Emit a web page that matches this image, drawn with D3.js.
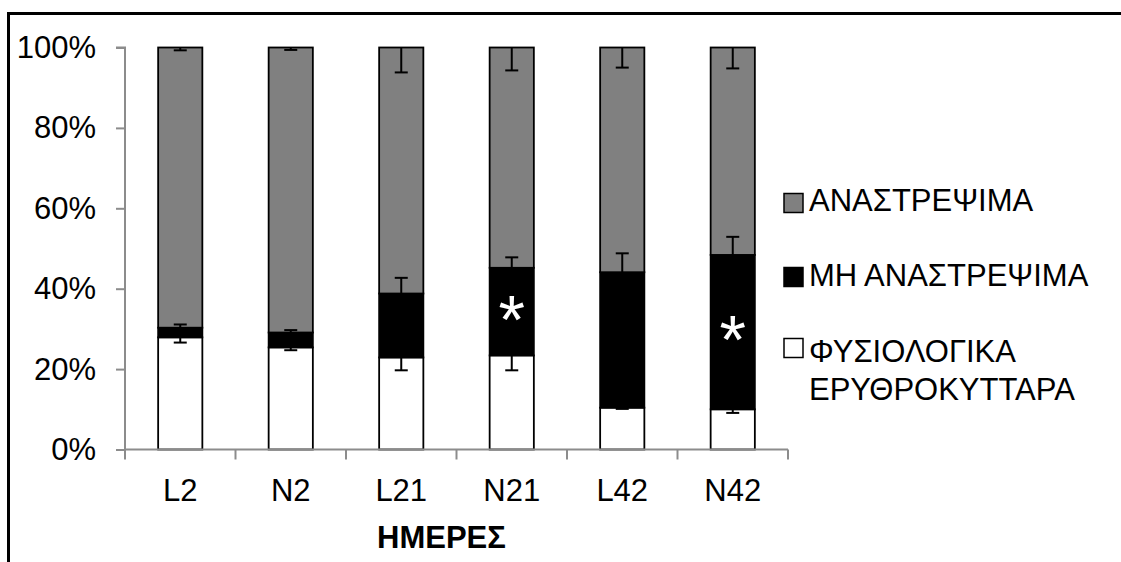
<!DOCTYPE html>
<html>
<head>
<meta charset="utf-8">
<script src="https://cdn.jsdelivr.net/npm/d3@7"></script>
<style>
	html, body { margin: 0; padding: 0; background: #fff; }
	svg { display: block; font-family: "Liberation Sans", Arial, sans-serif; }
</style>
</head>
<body>
<div id="chart"></div>
<script>
"use strict";

// days / groups
const categories = ['L2', 'N2', 'L21', 'N21', 'L42', 'N42'];

// stacked percentages, bottom -> top
const normalCells = [27.9, 25.4, 22.9, 23.4, 10.4, 10.0];      // ΦΥΣΙΟΛΟΓΙΚΑ ΕΡΥΘΡΟΚΥΤΤΑΡΑ
const irreversible = [2.4, 3.7, 15.9, 21.8, 33.7, 38.4];       // ΜΗ ΑΝΑΣΤΡΕΨΙΜΑ
const reversible = [69.7, 70.9, 61.2, 54.8, 55.9, 51.6];       // ΑΝΑΣΤΡΕΨΙΜΑ

// error bar sizes
const normalErr = [1.3, 0.7, 3.2, 3.7, 0.3, 0.9];
const irreversibleErr = [0.8, 0.6, 3.9, 2.6, 4.7, 4.5];
const reversibleErr = [0.7, 0.6, 6.2, 5.7, 5.0, 5.2];

// significance marks
const starred = ['N21', 'N42'];

const yTicks = [0, 20, 40, 60, 80, 100];

const W = 1121, H = 562;
const M = { left: 125, right: 788, top: 47.5, bottom: 449.5 };

const svg = d3.select('#chart').append('svg')
	.attr('width', W)
	.attr('height', H);

// frame (top + left only)
svg.append('path')
	.attr('d', `M8.5,${H}V13.5H${W}`)
	.attr('fill', 'none')
	.attr('stroke', '#000')
	.attr('stroke-width', 3);

const x = d3.scaleBand()
	.domain(categories)
	.range([M.left, M.right])
	.paddingInner(0.6)
	.paddingOuter(0.3);

const xb = d3.scaleBand()
	.domain(categories)
	.range([M.left, M.right]);

const y = d3.scaleLinear()
	.domain([0, 100])
	.range([M.bottom, M.top]);

// y axis
const yAxis = svg.append('g')
	.attr('transform', `translate(${M.left},0)`)
	.call(d3.axisLeft(y).tickValues(yTicks).tickFormat(d => d + '%').tickSize(9).tickPadding(20));
yAxis.select('.domain').attr('stroke', '#8c8c8c').attr('stroke-width', 2).attr('d', `M-9,${M.top}H0V${M.bottom}`);
yAxis.selectAll('.tick line').attr('stroke', '#8c8c8c').attr('stroke-width', 2);
yAxis.selectAll('.tick text').attr('fill', '#000').style('font-size', '31px');

// stack data
const rows = categories.map((c, i) => ({
	cat: c,
	normal: normalCells[i],
	irr: irreversible[i],
	rev: reversible[i]
}));
const keys = ['normal', 'irr', 'rev'];
const fills = { normal: '#ffffff', irr: '#000000', rev: '#808080' };
const series = d3.stack().keys(keys)(rows);

// bars
svg.append('g').selectAll('g')
	.data(series)
	.join('g')
	.attr('fill', d => fills[d.key])
	.selectAll('rect')
	.data(d => d)
	.join('rect')
	.attr('x', d => x(d.data.cat))
	.attr('y', d => y(d[1]))
	.attr('width', x.bandwidth())
	.attr('height', d => y(d[0]) - y(d[1]))
	.attr('stroke', '#000')
	.attr('stroke-width', 1.8);

// x axis (drawn over bar bottoms)
const xAxisG = svg.append('g')
	.attr('transform', `translate(0,${M.bottom})`);
xAxisG.append('line')
	.attr('x1', M.left).attr('x2', M.right)
	.attr('stroke', '#8c8c8c').attr('stroke-width', 2);
xAxisG.selectAll('line.tk')
	.data(categories.map(c => xb(c)).concat([M.right]))
	.join('line')
	.attr('class', 'tk')
	.attr('x1', d => d).attr('x2', d => d)
	.attr('y1', 0).attr('y2', 10)
	.attr('stroke', '#8c8c8c').attr('stroke-width', 2);
xAxisG.selectAll('text')
	.data(categories)
	.join('text')
	.attr('x', d => x(d) + x.bandwidth() / 2)
	.attr('y', 51)
	.attr('text-anchor', 'middle')
	.style('font-size', '31px')
	.text(d => d);

svg.append('text')
	.attr('x', 377)
	.attr('y', 548)
	.style('font-size', '31px')
	.style('font-weight', 'bold')
	.text('ΗΜΕΡΕΣ');

// error bars
const errs = [];
rows.forEach((r, i) => {
	const cx = x(r.cat) + x.bandwidth() / 2;
	const t1 = r.normal, t2 = r.normal + r.irr;
	errs.push({ cx, from: t1, to: t1 - normalErr[i] });
	errs.push({ cx, from: t2, to: t2 + irreversibleErr[i] });
	errs.push({ cx, from: 100, to: 100 - reversibleErr[i] });
});
const eb = svg.append('g').attr('stroke', '#000').attr('stroke-width', 2);
eb.selectAll('line.v')
	.data(errs)
	.join('line')
	.attr('class', 'v')
	.attr('x1', d => d.cx).attr('x2', d => d.cx)
	.attr('y1', d => y(d.from)).attr('y2', d => y(d.to));
eb.selectAll('line.c')
	.data(errs)
	.join('line')
	.attr('class', 'c')
	.attr('x1', d => d.cx - 6.5).attr('x2', d => d.cx + 6.5)
	.attr('y1', d => y(d.to)).attr('y2', d => y(d.to));

// asterisks
svg.append('g').selectAll('text')
	.data(rows.filter(r => starred.includes(r.cat)))
	.join('text')
	.attr('x', d => x(d.cat) + x.bandwidth() / 2)
	.attr('y', d => y(d.normal + d.irr / 2) + 31)
	.attr('text-anchor', 'middle')
	.attr('fill', '#fff')
	.style('font-size', '68px')
	.text('*');

// legend
const legendItems = [
	{ key: 'rev', lines: ['ΑΝΑΣΤΡΕΨΙΜΑ'], cy: 203, ty: 8 },
	{ key: 'irr', lines: ['ΜΗ ΑΝΑΣΤΡΕΨΙΜΑ'], cy: 277, ty: 9 },
	{ key: 'normal', lines: ['ΦΥΣΙΟΛΟΓΙΚΑ', 'ΕΡΥΘΡΟΚΥΤΤΑΡΑ'], cy: 348, ty: 14 }
];
const lg = svg.append('g').selectAll('g')
	.data(legendItems)
	.join('g')
	.attr('transform', d => `translate(784,${d.cy})`);
lg.append('rect')
	.attr('x', 0).attr('y', -9.5)
	.attr('width', 19).attr('height', 19)
	.attr('fill', d => fills[d.key])
	.attr('stroke', '#000')
	.attr('stroke-width', 1.5);
lg.append('text')
	.attr('x', 25)
	.attr('y', d => d.ty)
	.style('font-size', '31px')
	.selectAll('tspan')
	.data(d => d.lines)
	.join('tspan')
	.attr('x', 25)
	.attr('dy', (d, i) => i === 0 ? 0 : 37.5)
	.text(d => d);
</script>
</body>
</html>
